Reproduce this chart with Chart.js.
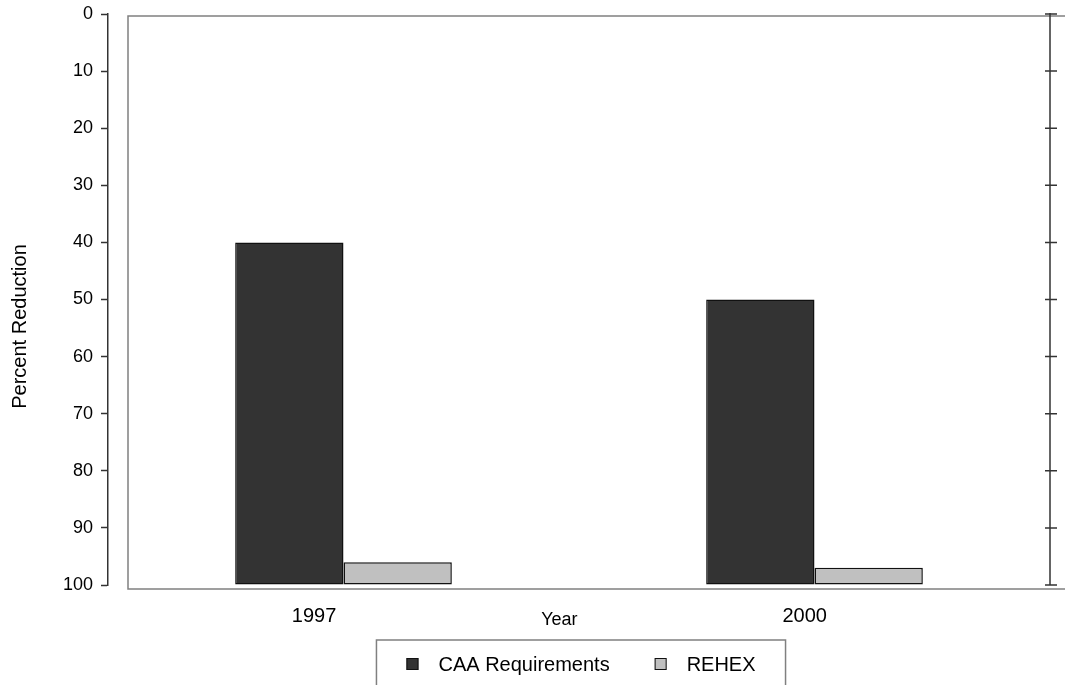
<!DOCTYPE html>
<html>
<head>
<meta charset="utf-8">
<title>Percent Reduction by Year</title>
<script src="https://cdn.jsdelivr.net/npm/chart.js@4.4.1/dist/chart.umd.min.js"></script>
<style>
  html, body { margin: 0; padding: 0; background: #ffffff; overflow: hidden; }
  #wrap { position: relative; width: 1065px; height: 685px; }
</style>
</head>
<body>
<div id="wrap"><canvas id="chart"></canvas></div>
<script>
// ---- data ----
const years = ['1997', '2000'];
const caaRequirements = [40, 50];
const rehex = [96, 97];
const seriesNames = ['CAA Requirements', 'REHEX'];
const xTitle = 'Year';
const yTitle = 'Percent Reduction';
const yMin = 0;
const yMax = 100;
const yStep = 10;

const FONT = "'Liberation Sans', Arial, Helvetica, sans-serif";
const AXIS_COLOR = '#333333';
const FRAME_COLOR = '#808080';

const toPoints = (vals) => vals.map((v, i) => ({ x: i, y: v }));
const yearTicks = (scale) => { scale.ticks = years.map((_, i) => ({ value: i })); };

// Frame, right-hand axis, titles and the boxed legend
const decorations = {
  id: 'decorations',
  beforeDatasetsDraw(chart) {
    const { ctx, chartArea: a } = chart;
    ctx.save();
    ctx.strokeStyle = FRAME_COLOR;
    ctx.lineWidth = 1.5;
    ctx.beginPath();
    ctx.moveTo(chart.width + 2, a.top + 2);
    ctx.lineTo(a.left + 20, a.top + 2);
    ctx.lineTo(a.left + 20, a.bottom + 4);
    ctx.lineTo(chart.width + 2, a.bottom + 4);
    ctx.stroke();
    ctx.restore();
  },
  afterDraw(chart) {
    const { ctx, chartArea: a } = chart;
    const y = chart.scales.y;
    const xl = chart.scales.xl;
    ctx.save();

    // right axis with ticks crossing the line
    ctx.strokeStyle = AXIS_COLOR;
    ctx.lineWidth = 1.5;
    const top = y.getPixelForValue(yMin);
    const bottom = y.getPixelForValue(yMax);
    ctx.beginPath();
    ctx.moveTo(a.right, top - 1);
    ctx.lineTo(a.right, bottom);
    y.ticks.forEach(t => {
      const py = y.getPixelForValue(t.value);
      ctx.moveTo(a.right - 5, py);
      ctx.lineTo(a.right + 7, py);
    });
    ctx.stroke();

    // axis titles
    ctx.fillStyle = '#000000';
    ctx.font = `18px ${FONT}`;
    ctx.textAlign = 'center';
    ctx.textBaseline = 'alphabetic';
    const midYear = (xl.getPixelForValue(0) + xl.getPixelForValue(years.length - 1)) / 2;
    ctx.fillText(xTitle, midYear, a.bottom + 40);

    ctx.save();
    ctx.font = `20px ${FONT}`;
    ctx.translate(25.5, (a.top + a.bottom) / 2 + 27);
    ctx.rotate(-Math.PI / 2);
    ctx.fillText(yTitle, 0, 0);
    ctx.restore();

    // legend
    ctx.font = `20px ${FONT}`;
    const box = 12, gapText = 20, gapItem = 45, pad = 30;
    const ds = chart.data.datasets;
    const widths = ds.map(d => ctx.measureText(d.label).width);
    const content = widths.reduce((s, w) => s + box + gapText + w, 0) + gapItem * (ds.length - 1);
    const cx = (a.left + a.right) / 2;
    const lx = cx - content / 2 - pad + 2;
    const ly = a.bottom + 55;
    ctx.strokeStyle = FRAME_COLOR;
    ctx.lineWidth = 1.5;
    ctx.strokeRect(lx, ly, content + pad * 2, 80);

    let ix = lx + pad;
    const iy = ly + 24;
    ctx.textAlign = 'left';
    ctx.textBaseline = 'middle';
    ds.forEach((d, i) => {
      ctx.fillStyle = d.backgroundColor;
      ctx.fillRect(ix, iy - box / 2, box, box);
      ctx.strokeStyle = '#111111';
      ctx.lineWidth = 1;
      ctx.strokeRect(ix + 0.5, iy - box / 2 + 0.5, box - 1, box - 1);
      ctx.fillStyle = '#000000';
      ctx.fillText(d.label, ix + box + gapText, iy + 1);
      ix += box + gapText + widths[i] + gapItem;
    });
    ctx.restore();
  }
};

const barStyle = {
  base: yMax,
  borderWidth: 1.5,
  borderColor: '#111111',
  borderSkipped: false,
  categoryPercentage: 0.46,
  barPercentage: 1.0
};

new Chart(document.getElementById('chart'), {
  type: 'bar',
  data: {
    datasets: [
      Object.assign({ label: seriesNames[0], data: toPoints(caaRequirements), backgroundColor: '#333333' }, barStyle),
      Object.assign({ label: seriesNames[1], data: toPoints(rehex), backgroundColor: '#c0c0c0' }, barStyle)
    ]
  },
  options: {
    responsive: true,
    maintainAspectRatio: false,
    animation: false,
    layout: { padding: { top: 14, right: 15, bottom: 0, left: 0 } },
    plugins: {
      legend: { display: false },
      tooltip: { enabled: false }
    },
    scales: {
      x: {
        type: 'linear',
        display: false,
        offset: false,
        min: -0.5,
        max: 1.5,
        afterBuildTicks: yearTicks
      },
      xl: {
        type: 'linear',
        position: 'bottom',
        offset: false,
        min: -0.42,
        max: 1.5,
        afterBuildTicks: yearTicks,
        grid: { display: false },
        border: { display: false },
        ticks: {
          autoSkip: false,
          maxRotation: 0,
          padding: 11,
          color: '#000000',
          font: { family: FONT, size: 20 },
          callback: (v) => years[v] ?? ''
        },
        afterFit(scale) { scale.height = 100; }
      },
      y: {
        reverse: true,
        min: yMin,
        max: yMax,
        ticks: {
          stepSize: yStep,
          padding: 8,
          color: '#000000',
          font: { family: FONT, size: 18 }
        },
        grid: {
          display: true,
          drawOnChartArea: false,
          drawTicks: true,
          tickLength: 7,
          tickColor: AXIS_COLOR,
          tickWidth: 1.5
        },
        border: { display: true, color: AXIS_COLOR, width: 1.5 },
        afterFit(scale) {
          scale.width = 108;
          scale.paddingTop = 0;
          scale.paddingBottom = 0;
        }
      }
    }
  },
  plugins: [decorations]
});
</script>
</body>
</html>
